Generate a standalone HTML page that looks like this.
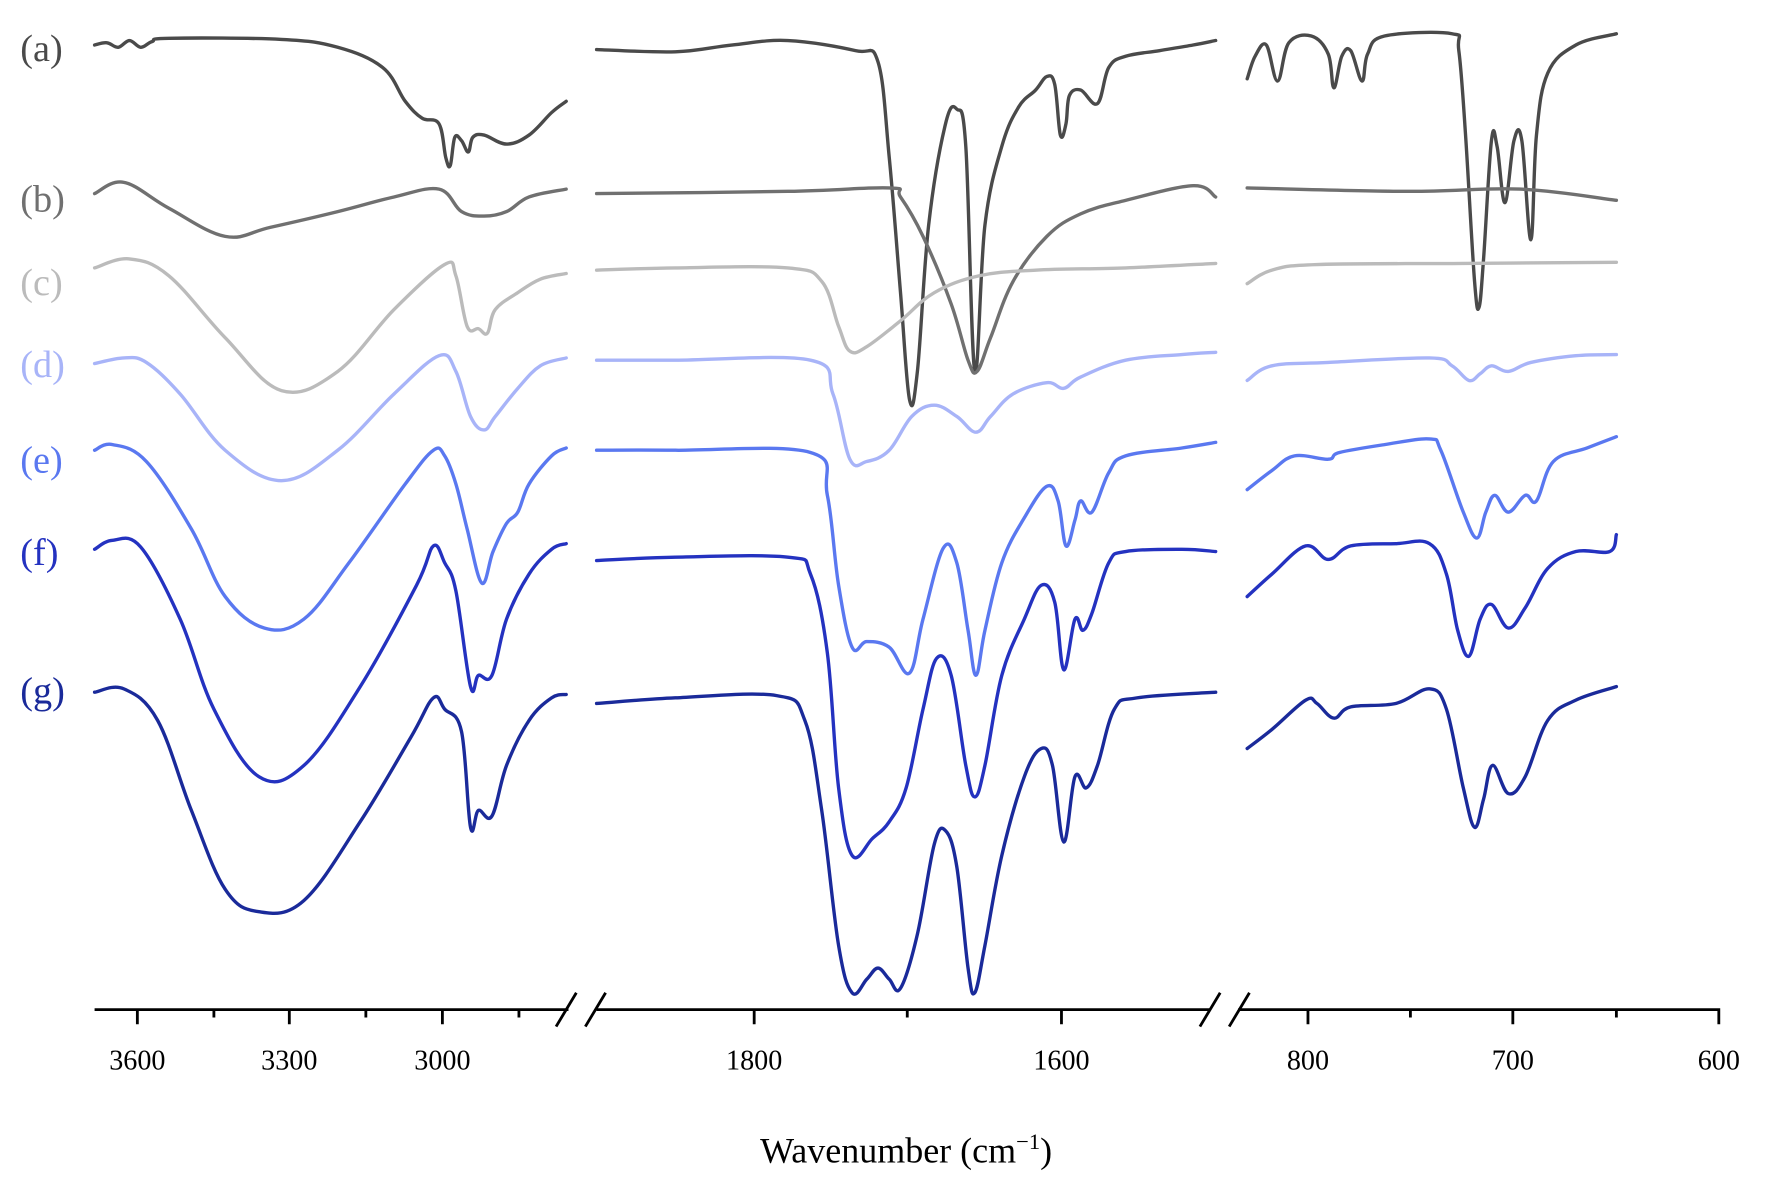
<!DOCTYPE html>
<html><head><meta charset="utf-8"><style>
html,body{margin:0;padding:0;background:#fff;}
svg{display:block}
text{font-family:"Liberation Serif",serif;}
polyline,path.c{fill:none;stroke-width:3;stroke-linejoin:round;stroke-linecap:round}
</style></head><body>
<svg id="s" width="1765" height="1192" viewBox="0 0 1568 1059" xmlns="http://www.w3.org/2000/svg">
<rect width="1568" height="1059" fill="#fff"/>
<g font-size="34">
<text x="18" y="54" fill="#4a4a4a">(a)</text>
<text x="18" y="188" fill="#707070">(b)</text>
<text x="18" y="262" fill="#bbbbbb">(c)</text>
<text x="18" y="335" fill="#a8b4f8">(d)</text>
<text x="18" y="420" fill="#5a78f0">(e)</text>
<text x="18" y="502" fill="#2432c0">(f)</text>
<text x="18" y="625" fill="#1a2a9a">(g)</text>
</g>
<g stroke="#4a4a4a">
<polyline points="84,40 95,38 105,42 115,36 125,42 135,37 150,34 250,35 300,42 340,60 360,90 375,105 390,110 396,140 400,147 404,122 410,125 416,135 420,122 430,120 450,128 470,120 490,100 503,90"/>
<polyline points="530,44 600,46 650,40 700,36 760,45 780,55 790,140 800,260 808,355 815,330 825,200 840,110 850,97 858,130 866,330 875,200 890,130 905,95 920,80 930,68 937,75 942,120 947,110 950,85 960,80 975,92 985,60 1000,50 1030,45 1060,40 1080,36"/>
<polyline points="1108,70 1115,50 1125,40 1135,72 1145,38 1165,32 1180,48 1185,78 1192,50 1200,45 1210,72 1215,48 1230,32 1290,30 1296,45 1302,120 1310,250 1314,273 1318,230 1325,125 1330,130 1337,180 1345,125 1352,125 1360,213 1365,120 1375,65 1400,40 1436,30"/>
</g>
<g stroke="#707070">
<polyline points="84,172 110,162 150,185 200,210 240,202 300,188 350,175 390,168 410,188 430,192 450,188 470,175 503,168"/>
<polyline points="530,172 700,170 790,167 800,175 820,210 845,270 860,320 868,330 880,300 900,250 930,210 960,190 1000,178 1060,165 1080,175"/>
<polyline points="1108,167 1250,170 1350,168 1436,178"/>
</g>
<g stroke="#bbbbbb">
<polyline points="84,238 115,230 150,245 200,300 250,347 300,330 350,275 395,235 405,245 415,290 425,292 433,296 440,275 460,260 480,248 503,243"/>
<polyline points="530,240 600,238 700,238 730,250 745,290 755,312 770,308 800,285 830,260 870,245 920,240 1000,238 1080,234"/>
<polyline points="1108,252 1130,240 1170,235 1300,234 1436,233"/>
</g>
<g stroke="#a8b4f8">
<polyline points="84,323 110,318 130,322 160,350 200,400 250,427 300,400 350,350 390,316 405,330 418,370 430,382 440,370 460,345 480,325 503,318"/>
<polyline points="530,320 600,320 720,320 740,350 755,408 770,410 790,400 810,370 830,360 850,370 867,384 880,370 900,350 930,340 945,345 960,335 1000,320 1050,315 1080,313"/>
<polyline points="1108,338 1130,325 1180,322 1270,318 1290,325 1305,338 1315,332 1325,325 1340,330 1360,322 1400,316 1436,315"/>
</g>
<g stroke="#5a78f0">
<polyline points="84,400 100,395 130,410 170,470 200,530 235,558 270,550 310,500 360,430 385,400 395,405 405,430 415,470 428,518 438,490 450,465 460,455 470,430 490,405 503,398"/>
<polyline points="530,400 600,400 720,402 735,440 745,520 757,575 770,570 790,575 808,598 820,550 838,487 850,500 860,560 867,600 875,560 890,500 910,460 930,432 940,445 947,485 955,462 960,445 970,455 985,420 1000,405 1050,398 1080,393"/>
<polyline points="1108,435 1130,418 1150,405 1180,408 1190,402 1230,395 1270,390 1280,400 1300,455 1312,478 1320,455 1328,440 1340,455 1355,440 1365,445 1380,410 1410,398 1436,388"/>
</g>
<g stroke="#2432c0">
<polyline points="84,488 100,480 125,486 160,550 190,630 230,690 270,680 320,610 370,520 385,485 395,500 405,525 418,610 425,600 437,600 450,550 470,510 490,488 503,483"/>
<polyline points="530,498 600,495 700,495 720,510 735,580 745,700 757,760 775,745 790,730 805,700 820,630 832,585 845,600 858,680 866,708 875,680 890,600 910,550 925,520 937,535 945,595 955,550 962,560 970,545 985,500 1000,490 1050,488 1080,490"/>
<polyline points="1108,530 1130,510 1160,485 1180,497 1200,485 1240,483 1270,483 1285,510 1295,560 1305,583 1315,550 1325,537 1340,558 1355,540 1375,505 1400,490 1430,490 1436,475"/>
</g>
<g stroke="#1a2a9a">
<polyline points="84,615 110,612 140,640 170,720 200,790 230,810 270,800 320,730 365,655 385,620 395,630 410,650 418,735 425,720 437,725 450,680 470,640 490,620 503,617"/>
<polyline points="530,625 600,620 690,618 715,640 730,720 745,840 757,882 770,870 780,860 790,870 800,878 815,830 830,750 840,738 850,770 860,860 866,882 875,840 890,760 910,690 925,665 935,680 945,748 955,690 965,700 975,680 990,630 1010,620 1080,615"/>
<polyline points="1108,665 1130,648 1160,622 1170,625 1185,638 1200,628 1240,625 1270,612 1285,630 1300,700 1310,735 1318,710 1326,680 1340,705 1355,690 1375,640 1400,622 1436,610"/>
</g>
<g stroke="#000" stroke-width="2.5" fill="none">
<path d="M84,897 H505 M530,897 H1075 M1100,897 H1527 V910"/>
<path d="M494,912 L512,882 M520,912 L538,882 M1066,912 L1084,882 M1092,912 L1110,882"/>
<path d="M122,897 V910 M190,897 V904 M257,897 V910 M325,897 V904 M393,897 V910 M461,897 V904"/>
<path d="M670,897 V910 M806,897 V904 M943,897 V910"/>
<path d="M1162,897 V910 M1253,897 V904 M1344,897 V910 M1436,897 V904"/>
</g>
<g font-size="25" text-anchor="middle" fill="#000">
<text x="122" y="950">3600</text><text x="257" y="950">3300</text><text x="393" y="950">3000</text>
<text x="670" y="950">1800</text><text x="943" y="950">1600</text>
<text x="1162" y="950">800</text><text x="1344" y="950">700</text><text x="1527" y="950">600</text>
</g>
<text x="805" y="1033" font-size="32" text-anchor="middle">Wavenumber (cm<tspan dy="-12" font-size="20">−1</tspan><tspan dy="12">)</tspan></text>
</svg>
<script>
document.querySelectorAll('polyline').forEach(function(pl){
  var p=pl.getAttribute('points').trim().split(/\s+/).map(function(s){return s.split(',').map(Number);});
  var d='M'+p[0][0]+','+p[0][1];
  for(var i=0;i<p.length-1;i++){
    var p0=p[i-1]||p[i],p1=p[i],p2=p[i+1],p3=p[i+2]||p2,t=0.18;
    var c1x=p1[0]+(p2[0]-p0[0])*t,c1y=p1[1]+(p2[1]-p0[1])*t;
    var c2x=p2[0]-(p3[0]-p1[0])*t,c2y=p2[1]-(p3[1]-p1[1])*t;
    d+=' C'+c1x.toFixed(1)+','+c1y.toFixed(1)+' '+c2x.toFixed(1)+','+c2y.toFixed(1)+' '+p2[0]+','+p2[1];
  }
  var path=document.createElementNS('http://www.w3.org/2000/svg','path');
  path.setAttribute('d',d);path.setAttribute('class','c');
  pl.parentNode.replaceChild(path,pl);
});
</script>
</body></html>
